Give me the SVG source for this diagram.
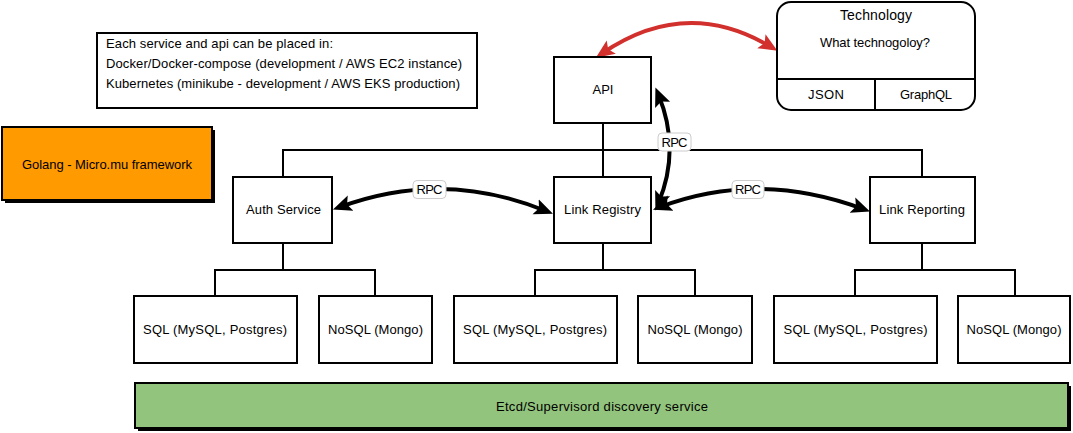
<svg xmlns="http://www.w3.org/2000/svg" width="1073" height="433" viewBox="0 0 1073 433">
<style>
.box{fill:#fff;stroke:#000;stroke-width:2}
.t{font-family:"Liberation Sans","DejaVu Sans",sans-serif;font-size:13px;fill:#000;text-anchor:middle}
.tl{font-family:"Liberation Sans","DejaVu Sans",sans-serif;font-size:13px;fill:#000}
.tree{fill:none;stroke:#000;stroke-width:2}
.arr{fill:none;stroke:#000;stroke-width:4;marker-start:url(#ah);marker-end:url(#ah)}
.red{fill:none;stroke:#D2302C;stroke-width:4;marker-start:url(#ahr);marker-end:url(#ahr)}
.lbl{fill:#fff;stroke:#ccc;stroke-width:1}
</style>
<defs>
<marker id="ah" markerUnits="userSpaceOnUse" markerWidth="20" markerHeight="20" viewBox="0 -8 16 16" refX="9" refY="0" orient="auto-start-reverse">
<path d="M0,-6.5 L15,0 L0,6.5 L3,0 Z" fill="#000"/>
</marker>
<marker id="ahr" markerUnits="userSpaceOnUse" markerWidth="20" markerHeight="20" viewBox="0 -8 16 16" refX="9" refY="0" orient="auto-start-reverse">
<path d="M0,-6.5 L15,0 L0,6.5 L3,0 Z" fill="#D2302C"/>
</marker>
</defs>

<g id="connectors">
<path class="tree" d="M603,123 V177"/>
<path class="tree" d="M283,177 V150 H922 V177"/>
<path class="tree" d="M283,243 V270 M215,296 V270 H375 V296"/>
<path class="tree" d="M603,243 V270 M535,296 V270 H695 V296"/>
<path class="tree" d="M922,243 V270 M855,296 V270 H1015 V296"/>
<path class="arr" d="M340,207 Q443,169 546,211"/>
<path class="arr" d="M660,207 Q758,170 863,209"/>
<path class="arr" d="M658.3,94.5 Q681,149 658.3,203.5"/>
<path class="red" d="M602,53.5 Q686,-4 771,47"/>
<g id="rpc1"><rect class="lbl" x="413" y="180.5" width="33" height="18" rx="4"/><text class="t" x="429.5" y="194" textLength="26">RPC</text></g>
<g id="rpc2"><rect class="lbl" x="732" y="180.5" width="32" height="18" rx="4"/><text class="t" x="748" y="194" textLength="26">RPC</text></g>
<g id="rpc3"><rect class="lbl" x="658" y="133" width="33" height="18" rx="4"/><text class="t" x="674.5" y="146.5" textLength="26">RPC</text></g>
</g>

<g id="note">
<rect class="box" x="97" y="33" width="380" height="75"/>
<text class="tl" x="106" y="47.5" textLength="227">Each service and api can be placed in:</text>
<text class="tl" x="106" y="67.5" textLength="356">Docker/Docker-compose (development / AWS EC2 instance)</text>
<text class="tl" x="106" y="87.5" textLength="354">Kubernetes (minikube - development / AWS EKS production)</text>
</g>

<g id="golang">
<rect x="5" y="130" width="210" height="73" fill="#000"/>
<rect x="2" y="127" width="210" height="73" fill="#FF9A00" stroke="#000" stroke-width="2"/>
<text class="t" x="107" y="168.5" textLength="170">Golang - Micro.mu framework</text>
</g>

<g id="api">
<rect class="box" x="554" y="57" width="97" height="66"/>
<text class="t" x="603" y="93.5">API</text>
</g>

<g id="technology">
<rect class="box" x="777" y="2" width="198" height="108" rx="14"/>
<path class="tree" d="M777,79 H975 M875,79 V110"/>
<text class="t" x="876" y="20" style="font-size:14px" textLength="72">Technology</text>
<text class="t" x="875" y="46.5" textLength="110">What technogoloy?</text>
<text class="t" x="826" y="99" textLength="36">JSON</text>
<text class="t" x="926" y="99" textLength="52">GraphQL</text>
</g>

<g id="auth">
<rect class="box" x="233" y="177" width="99" height="66"/>
<text class="t" x="283.5" y="213.5" textLength="75">Auth Service</text>
</g>

<g id="registry">
<rect class="box" x="554" y="177" width="97" height="66"/>
<text class="t" x="602.5" y="213.5" textLength="77">Link Registry</text>
</g>

<g id="reporting">
<rect class="box" x="870" y="177" width="105" height="66"/>
<text class="t" x="922" y="213.5" textLength="86">Link Reporting</text>
</g>

<g id="sql1"><rect class="box" x="134" y="296" width="163" height="67"/><text class="t" x="215" y="333.5" textLength="144">SQL (MySQL, Postgres)</text></g>
<g id="nosql1"><rect class="box" x="319" y="296" width="113" height="67"/><text class="t" x="375.5" y="333.5" textLength="95">NoSQL (Mongo)</text></g>
<g id="sql2"><rect class="box" x="454" y="296" width="163" height="67"/><text class="t" x="535" y="333.5" textLength="144">SQL (MySQL, Postgres)</text></g>
<g id="nosql2"><rect class="box" x="638" y="296" width="114" height="67"/><text class="t" x="695" y="333.5" textLength="95">NoSQL (Mongo)</text></g>
<g id="sql3"><rect class="box" x="774" y="296" width="163" height="67"/><text class="t" x="855.5" y="333.5" textLength="144">SQL (MySQL, Postgres)</text></g>
<g id="nosql3"><rect class="box" x="958" y="296" width="112" height="67"/><text class="t" x="1014" y="333.5" textLength="95">NoSQL (Mongo)</text></g>

<g id="etcd">
<rect x="138" y="386" width="933" height="45" fill="#000"/>
<rect x="135" y="383" width="933" height="45" fill="#93C47D" stroke="#000" stroke-width="2"/>
<text class="t" x="602" y="410.5" textLength="212">Etcd/Supervisord discovery service</text>
</g>
</svg>
